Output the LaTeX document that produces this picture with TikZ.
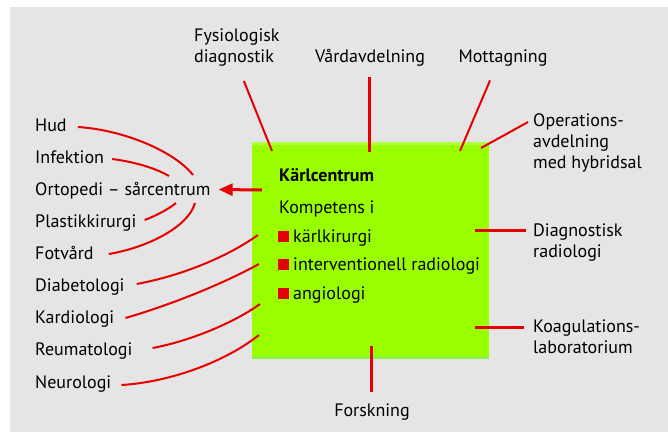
\documentclass[tikz,border=0pt]{standalone}
\usepackage{fontspec}
\setmainfont{PT Sans}
\usetikzlibrary{arrows.meta}
\definecolor{bggray}{HTML}{E5E5E5}
\definecolor{kgreen}{HTML}{99FF00}
\definecolor{kgreentop}{HTML}{B2FF3F}
\definecolor{kgreenbot}{HTML}{88F440}
\definecolor{kred}{HTML}{E60000}

\begin{document}
\begin{tikzpicture}[x=1pt,y=-1pt,
    lbl/.style={anchor=west,inner sep=0pt,text height=12.5pt,text depth=0pt,font=\fontsize{18}{21}\selectfont},
    mlbl/.style={anchor=west,inner sep=0pt,align=left,font=\fontsize{18}{21}\selectfont},
    conn/.style={kred,line width=2pt},
    thickconn/.style={kred,line width=3pt},
    bullet/.style={fill=kred,inner sep=0pt,minimum size=11pt}]
      \useasboundingbox (0,0) rectangle (668,432);
      \fill[bggray] (10,7) rectangle (668,432);
      % the centre box
      \node[fill=kgreen,inner sep=0pt,minimum width=237pt,minimum height=217pt] (karl) at (370.5,250.5) {};
      \fill[kgreentop] (karl.north west) rectangle ([yshift=-3pt]karl.north east);
      \fill[kgreenbot] ([yshift=3pt]karl.south west) rectangle (karl.south east);
      \node[lbl,font=\fontsize{18}{21}\selectfont\bfseries] (titel) at (279,175) {Kärlcentrum};
      \node[lbl] (komp) at (279,207) {Kompetens i};
      \foreach \y/\n/\t in {236/k1/kärlkirurgi, 264/k2/interventionell radiologi, 293/k3/angiologi}{
        \node[bullet] (b\n) at (283.5,\y) {};
        \node[lbl] (\n) at (293,\y) {\t};
      }
      % labels to the left
      \node[lbl] (hud) at (35,125.5) {Hud};
      \node[lbl] (infektion) at (35,157.5) {Infektion};
      \node[lbl] (orto) at (35,189.5) {Ortopedi -- sårcentrum};
      \node[lbl] (plastik) at (35,221.5) {Plastikkirurgi};
      \node[lbl] (fotvard) at (35,253.5) {Fotvård};
      \node[lbl] (diabet) at (35,285.5) {Diabetologi};
      \node[lbl] (kardio) at (35,317.5) {Kardiologi};
      \node[lbl] (reuma) at (35,349.5) {Reumatologi};
      \node[lbl] (neuro) at (35,382) {Neurologi};
      % labels above, right and below
      \node[mlbl] (fys) at (194,48) {Fysiologisk\\diagnostik};
      \node[lbl,anchor=center] (vard) at (370,56) {Vårdavdelning};
      \node[lbl,anchor=center] (mott) at (503,56) {Mottagning};
      \node[mlbl] (oper) at (533,143) {Operations-\\avdelning\\med hybridsal};
      \node[mlbl] (diag) at (533,243) {Diagnostisk\\radiologi};
      \node[mlbl] (koag) at (533,337) {Koagulations-\\laboratorium};
      \node[lbl,anchor=center] (forsk) at (372,410) {Forskning};
      % ends inside the box
      \coordinate (fysE) at (272,151);
      \coordinate (vardE) at (369,152);
      \coordinate (mottE) at (460,151);
      \coordinate (operE) at (481,148);
      \coordinate (diagE) at (475,230);
      \coordinate (koagE) at (475,327);
      \coordinate (forskE) at (371,346);
      \coordinate (ortoS) at (262,190);
      \coordinate (diabetE) at (258,235);
      \coordinate (kardioE) at (259,264);
      \coordinate (reumaE) at (260,304);
      \coordinate (neuroE) at (259,335);
      % ends at Ortopedi
      \coordinate (hudE) at (193,175);
      \coordinate (infektionE) at (169,176);
      \coordinate (plastikE) at (176,203);
      \coordinate (fotvardE) at (195,203);
      \draw[conn] ([shift={(7,14)}]fys.south) -- (fysE);
      \draw[thickconn] ([shift={(-1,15)}]vard.south) -- (vardE);
      \draw[conn] ([shift={(-13,18)}]mott.south) -- (mottE);
      \draw[conn] ([shift={(-5,8.5)}]oper.north west) -- (operE);
      \draw[thickconn] ([shift={(-7,-13)}]diag.west) -- (diagE);
      \draw[thickconn] ([shift={(-9,-10)}]koag.west) -- (koagE);
      \draw[thickconn] ([shift={(-1,-12)}]forsk.north) -- (forskE);
      \draw[thickconn,-{Triangle[length=14pt,width=12pt]}] (ortoS) -- ([xshift=8pt]orto.east);
      \draw[conn] ([shift={(11,1.5)}]hud.east) .. controls (125,130) and (175,152) .. (hudE);
      \draw[conn] ([shift={(8,1.5)}]infektion.east) .. controls (135,162) and (155,168) .. (infektionE);
      \draw[conn] ([shift={(8,-1.5)}]plastik.east) .. controls (158,215) and (170,208) .. (plastikE);
      \draw[conn] ([shift={(15,0.5)}]fotvard.east) .. controls (145,248) and (188,228) .. (fotvardE);
      \draw[conn] ([shift={(12,-1.5)}]diabet.east) .. controls (185,275) and (230,255) .. (diabetE);
      \draw[conn] ([shift={(11,0.5)}]kardio.east) .. controls (180,302) and (230,280) .. (kardioE);
      \draw[conn] ([shift={(20,-1.5)}]reuma.east) .. controls (195,340) and (238,320) .. (reumaE);
      \draw[conn] ([shift={(10,3)}]neuro.east) .. controls (170,382) and (225,362) .. (neuroE);
    \end{tikzpicture}
\end{document}
